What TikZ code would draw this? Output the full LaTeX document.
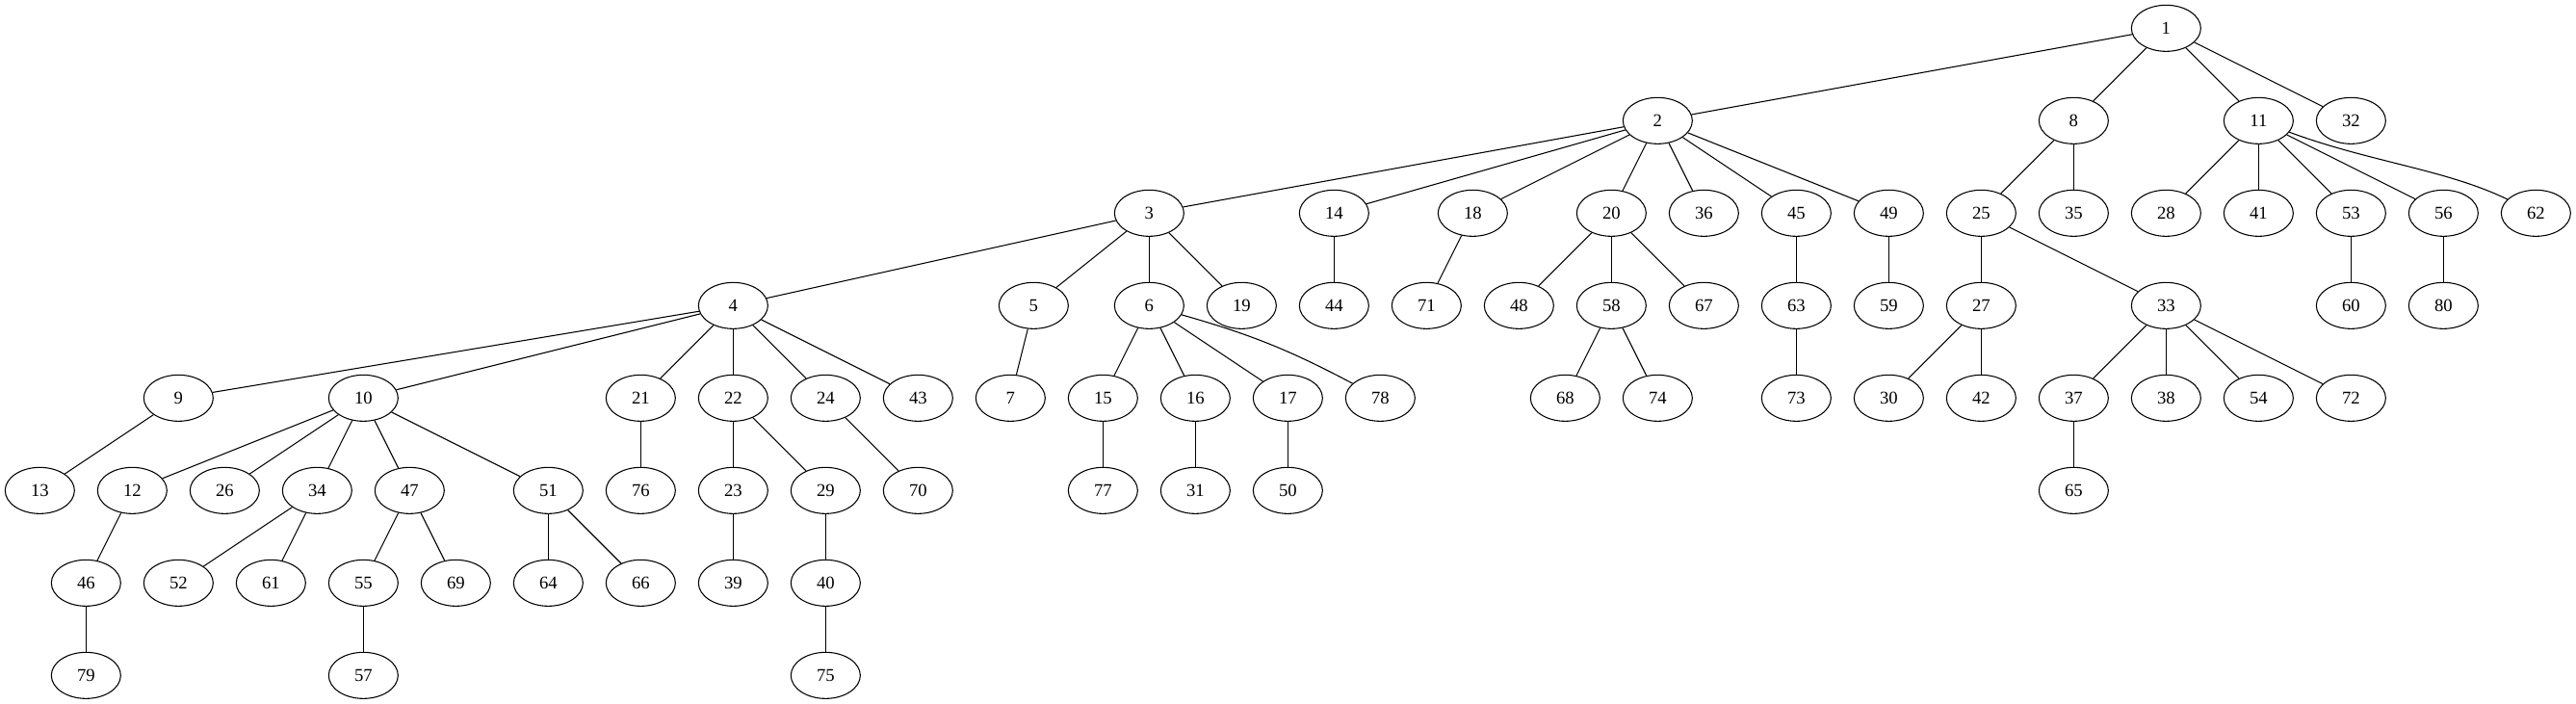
\documentclass[tikz,border=0pt]{standalone}
\usepackage{fontspec}
\setmainfont{Liberation Serif}
\usetikzlibrary{shapes.geometric}
\begin{document}
\begin{tikzpicture}[x=1pt,y=-1pt,
  gv/.style={draw,ellipse,line width=0.8pt,minimum width=54pt,minimum height=36pt,inner sep=0pt,font=\fontsize{14}{16}\selectfont},
  gvedge/.style={line width=0.8pt}]
\useasboundingbox (0,0) rectangle (2006.25,548.25);
\foreach \n/\x/\r in {
 1/1687/0,
 2/1291/1, 8/1615/1, 11/1759/1, 32/1831/1,
 3/895/2, 14/1039/2, 18/1147/2, 20/1255/2, 36/1327/2, 45/1399/2, 49/1471/2, 25/1543/2, 35/1615/2, 28/1687/2, 41/1759/2, 53/1831/2, 56/1903/2, 62/1975/2,
 4/571/3, 5/805/3, 6/895/3, 19/967/3, 44/1039/3, 71/1111/3, 48/1183/3, 58/1255/3, 67/1327/3, 63/1399/3, 59/1471/3, 27/1543/3, 33/1687/3, 60/1831/3, 80/1903/3,
 9/139/4, 10/283/4, 21/499/4, 22/571/4, 24/643/4, 43/715/4, 7/787/4, 15/859/4, 16/931/4, 17/1003/4, 78/1075/4, 68/1219/4, 74/1291/4, 73/1399/4, 30/1471/4, 42/1543/4, 37/1615/4, 38/1687/4, 54/1759/4, 72/1831/4,
 13/31/5, 12/103/5, 26/175/5, 34/247/5, 47/319/5, 51/427/5, 76/499/5, 23/571/5, 29/643/5, 70/715/5, 77/859/5, 31/931/5, 50/1003/5, 65/1615/5,
 46/67/6, 52/139/6, 61/211/6, 55/283/6, 69/355/6, 64/427/6, 66/499/6, 39/571/6, 40/643/6,
 79/67/7, 57/283/7, 75/643/7}
 \node[gv] (n\n) at (\x,{22+72*\r}) {\n};
\foreach \a/\b in {
 1/2, 1/8, 1/11, 1/32,
 2/3, 2/14, 2/18, 2/20, 2/36, 2/45, 2/49,
 3/4, 3/5, 3/6, 3/19,
 4/9, 4/10, 4/21, 4/22, 4/24, 4/43,
 5/7, 6/15, 6/16, 6/17,
 8/25, 8/35, 9/13,
 10/12, 10/26, 10/34, 10/47, 10/51,
 11/28, 11/41, 11/53, 11/56,
 12/46, 14/44, 15/77, 16/31, 17/50, 18/71,
 20/48, 20/58, 20/67, 21/76, 22/23, 22/29, 23/39, 24/70,
 25/27, 25/33, 27/30, 27/42, 29/40,
 33/37, 33/38, 33/54, 33/72, 34/52, 34/61, 37/65, 40/75,
 45/63, 46/79, 47/55, 47/69, 49/59, 51/64, 51/66, 53/60, 55/57, 56/80,
 58/68, 58/74, 63/73}
 \draw[gvedge] (n\a) -- (n\b);
\draw[gvedge] (n6) to[bend left=6] (n78);
\draw[gvedge] (n11) .. controls (1845,126) and (1905,132) .. (n62);
\end{tikzpicture}
\end{document}
